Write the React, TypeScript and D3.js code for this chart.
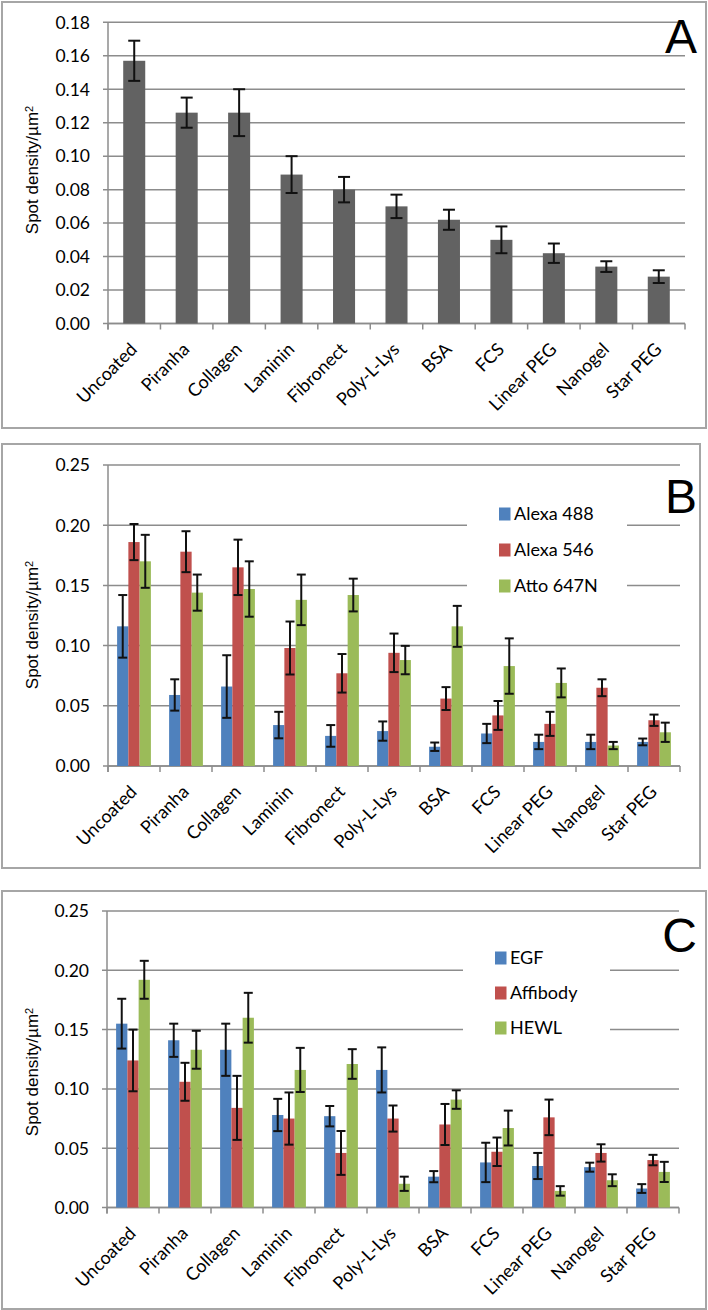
import React, { useEffect, useRef } from "react";
import * as d3 from "d3";

// categories (coatings)
const categories = [
  "Uncoated", "Piranha", "Collagen", "Laminin", "Fibronect", "Poly-L-Lys",
  "BSA", "FCS", "Linear PEG", "Nanogel", "Star PEG",
];

// panel A
const densityA = [0.157, 0.126, 0.126, 0.089, 0.080, 0.070, 0.062, 0.050, 0.042, 0.034, 0.028];
const errorA = [0.012, 0.009, 0.014, 0.011, 0.0076, 0.007, 0.006, 0.008, 0.0058, 0.0032, 0.0038];
const ticksA = [0, 0.02, 0.04, 0.06, 0.08, 0.1, 0.12, 0.14, 0.16, 0.18];

// panel B (dyes)
const alexa488 = [0.116, 0.059, 0.066, 0.034, 0.025, 0.029, 0.016, 0.027, 0.020, 0.020, 0.020];
const alexa488Err = [0.026, 0.013, 0.026, 0.011, 0.009, 0.008, 0.0035, 0.008, 0.006, 0.006, 0.0028];
const alexa546 = [0.186, 0.178, 0.165, 0.098, 0.077, 0.094, 0.056, 0.042, 0.035, 0.065, 0.038];
const alexa546Err = [0.015, 0.017, 0.023, 0.022, 0.016, 0.016, 0.0095, 0.012, 0.010, 0.007, 0.0047];
const atto647N = [0.170, 0.144, 0.147, 0.138, 0.142, 0.088, 0.116, 0.083, 0.069, 0.017, 0.028];
const atto647NErr = [0.022, 0.015, 0.023, 0.021, 0.0136, 0.0118, 0.017, 0.023, 0.012, 0.003, 0.008];

// panel C (proteins)
const egf = [0.155, 0.141, 0.133, 0.078, 0.077, 0.116, 0.026, 0.038, 0.035, 0.034, 0.016];
const egfErr = [0.021, 0.014, 0.022, 0.0136, 0.0086, 0.019, 0.0047, 0.0166, 0.011, 0.0038, 0.0037];
const affibody = [0.124, 0.106, 0.084, 0.075, 0.046, 0.075, 0.070, 0.047, 0.076, 0.046, 0.040];
const affibodyErr = [0.026, 0.016, 0.027, 0.022, 0.0185, 0.011, 0.0173, 0.012, 0.015, 0.0073, 0.0044];
const hewl = [0.192, 0.133, 0.160, 0.116, 0.121, 0.020, 0.091, 0.067, 0.014, 0.023, 0.030];
const hewlErr = [0.016, 0.016, 0.021, 0.0186, 0.0125, 0.006, 0.0078, 0.0147, 0.004, 0.005, 0.0085];

const ticksBC = [0, 0.05, 0.1, 0.15, 0.2, 0.25];

const BLUE = "#4f81bd", RED = "#c0504d", GREEN = "#9bbb59";
const LABEL_FONT = "Lato, 'Open Sans', sans-serif";
const ARIAL = "'Liberation Sans', Arial, sans-serif";

const panels = [
  {
    letter: "A", letterY: 53,
    box: { x1: 2, y1: 2, x2: 706, y2: 428 },
    plot: { left: 108, right: 685, top: 22.3, bottom: 323.5 },
    yMax: 0.18, ticks: ticksA, titleY: 170,
    groupFrac: 0.42, cap: 6,
    series: [{ name: "", color: "#626262", values: densityA, errors: errorA }],
    legend: null,
  },
  {
    letter: "B", letterY: 513,
    box: { x1: 2, y1: 444, x2: 700, y2: 868 },
    plot: { left: 108, right: 680, top: 465, bottom: 766 },
    yMax: 0.25, ticks: ticksBC, titleY: 625,
    groupFrac: 0.65, cap: 4.5,
    series: [
      { name: "Alexa 488", color: BLUE, values: alexa488, errors: alexa488Err },
      { name: "Alexa 546", color: RED, values: alexa546, errors: alexa546Err },
      { name: "Atto 647N", color: GREEN, values: atto647N, errors: atto647NErr },
    ],
    legend: { bgX1: 467, bgX2: 627, bgY1: 495, bgY2: 605, markX: 499, rowY: 514, step: 36 },
  },
  {
    letter: "C", letterY: 952,
    box: { x1: 2, y1: 891, x2: 706, y2: 1309 },
    plot: { left: 107, right: 679, top: 911, bottom: 1207.5 },
    yMax: 0.25, ticks: ticksBC, titleY: 1072,
    groupFrac: 0.65, cap: 4.5,
    series: [
      { name: "EGF", color: BLUE, values: egf, errors: egfErr },
      { name: "Affibody", color: RED, values: affibody, errors: affibodyErr },
      { name: "HEWL", color: GREEN, values: hewl, errors: hewlErr },
    ],
    legend: { bgX1: 463, bgX2: 610, bgY1: 935, bgY2: 1050, markX: 495, rowY: 958, step: 35 },
  },
];

function drawPanel(svg, cfg) {
  const p = cfg.plot;
  const g = svg.append("g");

  // outer frame
  g.append("rect")
    .attr("x", cfg.box.x1).attr("y", cfg.box.y1)
    .attr("width", cfg.box.x2 - cfg.box.x1)
    .attr("height", cfg.box.y2 - cfg.box.y1)
    .attr("fill", "#fff").attr("stroke", "#a6a6a6").attr("stroke-width", 2);

  const x = d3.scaleBand().domain(categories).range([p.left, p.right]);
  const y = d3.scaleLinear().domain([0, cfg.yMax]).range([p.bottom, p.top]);
  const bw = x.bandwidth();

  // gridlines (extend left as tick marks)
  g.selectAll(".grid").data(cfg.ticks).join("line")
    .attr("x1", p.left - 5).attr("x2", p.right)
    .attr("y1", (d) => y(d)).attr("y2", (d) => y(d))
    .attr("stroke", "#8c8c8c").attr("stroke-width", 1.5);

  g.selectAll(".ytick").data(cfg.ticks).join("text")
    .attr("x", p.left - 18).attr("y", (d) => y(d)).attr("dy", "0.36em")
    .attr("text-anchor", "end")
    .style("font-family", LABEL_FONT).style("font-size", "17.5px")
    .text((d) => d3.format(".2f")(d));

  // axes
  g.append("line").attr("x1", p.left).attr("x2", p.left)
    .attr("y1", p.top).attr("y2", p.bottom + 6)
    .attr("stroke", "#8c8c8c").attr("stroke-width", 1.5);
  g.append("line").attr("x1", p.left).attr("x2", p.right)
    .attr("y1", p.bottom).attr("y2", p.bottom)
    .attr("stroke", "#8c8c8c").attr("stroke-width", 1.5);
  const bounds = categories.map((c) => x(c)).concat([p.right]);
  g.selectAll(".xtick").data(bounds).join("line")
    .attr("x1", (d) => d).attr("x2", (d) => d)
    .attr("y1", p.bottom).attr("y2", p.bottom + 6)
    .attr("stroke", "#8c8c8c").attr("stroke-width", 1.5);

  // legend background cuts the gridlines
  if (cfg.legend) {
    const L = cfg.legend;
    g.append("rect").attr("x", L.bgX1).attr("y", L.bgY1)
      .attr("width", L.bgX2 - L.bgX1).attr("height", L.bgY2 - L.bgY1)
      .attr("fill", "#fff");
  }

  // bars
  const groupW = bw * cfg.groupFrac;
  const xs = d3.scaleBand().domain(cfg.series.map((s, i) => i)).range([0, groupW]);
  cfg.series.forEach((s, i) => {
    const rows = categories.map((c, k) => ({ c, v: s.values[k], e: s.errors[k] }));
    const bx = (d) => x(d.c) + (bw - groupW) / 2 + xs(i);
    g.selectAll(".bar" + i).data(rows).join("rect")
      .attr("x", bx).attr("y", (d) => y(d.v))
      .attr("width", xs.bandwidth()).attr("height", (d) => p.bottom - y(d.v))
      .attr("fill", s.color);

    const cx = (d) => bx(d) + xs.bandwidth() / 2;
    const eb = g.selectAll(".err" + i).data(rows).join("g")
      .attr("stroke", "#111").attr("stroke-width", 2);
    eb.append("line").attr("x1", cx).attr("x2", cx)
      .attr("y1", (d) => y(d.v + d.e)).attr("y2", (d) => y(d.v - d.e));
    eb.append("line").attr("x1", (d) => cx(d) - cfg.cap).attr("x2", (d) => cx(d) + cfg.cap)
      .attr("y1", (d) => y(d.v + d.e)).attr("y2", (d) => y(d.v + d.e));
    eb.append("line").attr("x1", (d) => cx(d) - cfg.cap).attr("x2", (d) => cx(d) + cfg.cap)
      .attr("y1", (d) => y(d.v - d.e)).attr("y2", (d) => y(d.v - d.e));
  });

  // category labels
  g.selectAll(".xlab").data(categories).join("text")
    .attr("transform", (d) => `translate(${x(d) + bw / 2 + 4},${p.bottom + 27}) rotate(-45)`)
    .attr("text-anchor", "end")
    .style("font-family", LABEL_FONT).style("font-size", "18px")
    .text((d) => d);

  // y title
  const t = g.append("text")
    .attr("transform", `translate(38,${cfg.titleY}) rotate(-90)`)
    .attr("text-anchor", "middle")
    .style("font-family", ARIAL).style("font-size", "17px");
  t.append("tspan").text("Spot density/µm");
  t.append("tspan").attr("dy", "-0.45em").style("font-size", "11px").text("2");

  // panel letter
  g.append("text").attr("x", 697).attr("y", cfg.letterY)
    .attr("text-anchor", "end")
    .style("font-family", ARIAL).style("font-size", "48px")
    .text(cfg.letter);

  // legend entries
  if (cfg.legend) {
    const L = cfg.legend;
    const items = g.selectAll(".leg").data(cfg.series).join("g")
      .attr("transform", (d, i) => `translate(${L.markX},${L.rowY + i * L.step})`);
    items.append("rect").attr("x", 0).attr("y", -6.5)
      .attr("width", 11.5).attr("height", 13).attr("fill", (d) => d.color);
    items.append("text").attr("x", 15).attr("y", 0).attr("dy", "0.36em")
      .style("font-family", LABEL_FONT).style("font-size", "18px")
      .text((d) => d.name);
  }
}

export default function App() {
  const ref = useRef(null);

  useEffect(() => {
    const svg = d3.select(ref.current);
    svg.selectAll("*").remove();
    svg.append("rect").attr("width", 708).attr("height", 1310).attr("fill", "#fff");
    panels.forEach((cfg) => drawPanel(svg, cfg));
  }, []);

  return (
    <svg
      ref={ref}
      width={708}
      height={1310}
      style={{ position: "absolute", left: 0, top: 0, display: "block" }}
    />
  );
}
